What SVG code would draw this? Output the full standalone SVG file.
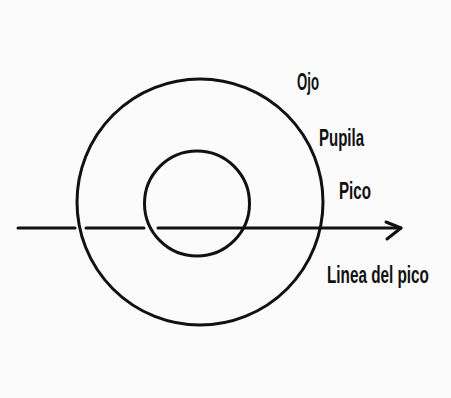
<svg xmlns="http://www.w3.org/2000/svg" width="451" height="398" viewBox="0 0 451 398">
<style>
.c{fill:none;stroke:#111;stroke-width:3}
.l{fill:none;stroke:#111;stroke-width:3;stroke-linecap:round;stroke-linejoin:round}
.t{font-family:"Liberation Sans",Arial,sans-serif;font-weight:bold;font-size:23px;fill:#111}
</style>
<rect width="451" height="398" fill="#fbfbfb"/>
<g id="ojo"><circle class="c" cx="200" cy="202" r="123"/></g>
<g id="pupila"><circle class="c" cx="197" cy="203.5" r="52.5"/></g>
<g id="connectors">
<path class="l" d="M18 228H75M86 228H144M158 228H401"/>
<path class="l" d="M386 222L401 228L387 239"/>
</g>
<g id="labels">
<text class="t" transform="translate(297,90) scale(0.66,1)" textLength="33.3" lengthAdjust="spacingAndGlyphs">Ojo</text>
<text class="t" transform="translate(319,146) scale(0.66,1)" textLength="68.2" lengthAdjust="spacingAndGlyphs">Pupila</text>
<text class="t" transform="translate(339,199) scale(0.66,1)" textLength="48.5" lengthAdjust="spacingAndGlyphs">Pico</text>
<text class="t" transform="translate(327,283) scale(0.66,1)" textLength="154.5" lengthAdjust="spacingAndGlyphs">Linea del pico</text>
</g>
</svg>
